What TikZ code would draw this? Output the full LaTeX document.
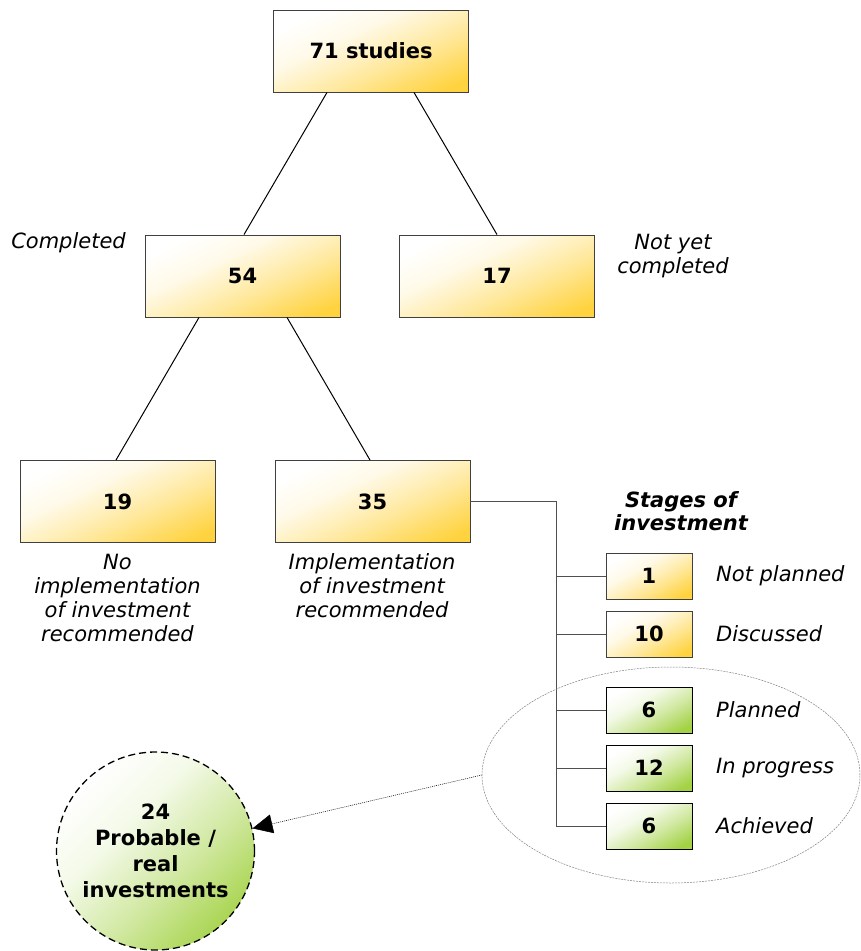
\documentclass[tikz,border=0pt]{standalone}
\usepackage{fontspec}
\setmainfont{DejaVu Sans}
\usetikzlibrary{arrows.meta,shapes.geometric}
\definecolor{goldc}{HTML}{FFD340}
\definecolor{greenc}{HTML}{A3D245}
\definecolor{boxline}{HTML}{404040}
\definecolor{wirec}{HTML}{505050}
\pgfdeclareverticalshading{goldshade}{100bp}{color(0bp)=(goldc); color(22bp)=(goldc); color(42bp)=(goldc!50); color(60bp)=(goldc!12); color(75bp)=(white); color(100bp)=(white)}
\pgfdeclareverticalshading{greenshade}{100bp}{color(0bp)=(greenc); color(22bp)=(greenc); color(42bp)=(greenc!50); color(60bp)=(greenc!12); color(75bp)=(white); color(100bp)=(white)}
\begin{document}
\begin{tikzpicture}[x=1pt,y=-1pt,
  lbl/.style={font=\itshape\fontsize{21}{24}\selectfont, align=center, inner sep=0pt},
  goldfill/.style={shading=goldshade, shading angle=25},
  greenfill/.style={shading=greenshade, shading angle=30},
  bigbox/.style={draw=boxline, line width=0.9pt, goldfill, minimum width=195pt, minimum height=82pt, inner sep=0pt, font=\bfseries\fontsize{21}{24}\selectfont},
  goldsmall/.style={draw=boxline, line width=0.9pt, shading=goldshade, shading angle=30, minimum width=86pt, minimum height=46pt, inner sep=0pt, font=\bfseries\fontsize{21}{24}\selectfont},
  greensmall/.style={draw=black, line width=0.9pt, greenfill, minimum width=86pt, minimum height=46pt, inner sep=0pt, font=\bfseries\fontsize{21}{24}\selectfont},
  treeline/.style={draw=black, line width=1pt},
  wire/.style={draw=wirec, line width=0.9pt},
  stage/.style={font=\itshape\fontsize{21}{24}\selectfont, anchor=west, inner sep=0pt}
]
\useasboundingbox (0,0) rectangle (860,951);

% main boxes
\node[bigbox] (n71) at (371,51) {71 studies};
\node[bigbox] (n54) at (242.5,276) {54};
\node[bigbox] (n17) at (497,276) {17};
\node[bigbox] (n19) at (117.5,501.5) {19};
\node[bigbox] (n35) at (372.5,501.5) {35};

% tree connectors
\draw[treeline] ([xshift=-44pt]n71.south) -- ([xshift=1.5pt]n54.north);
\draw[treeline] ([xshift=43pt]n71.south) -- (n17.north);
\draw[treeline] ([xshift=-43.5pt]n54.south) -- ([xshift=-1.5pt]n19.north);
\draw[treeline] ([xshift=44.5pt]n54.south) -- ([xshift=-2.5pt]n35.north);

% labels
\node[lbl, anchor=east] (lcomp) at (126,243) {Completed};
\node[lbl] (lnot) at (673,256) {Not yet\\completed};
\node[lbl] (lno) at (117.5,598) {No\\implementation\\of investment\\recommended};
\node[lbl] (limp) at (372,586) {Implementation\\of investment\\recommended};

% stages
\node[font=\bfseries\itshape\fontsize{21}{23}\selectfont, align=center, inner sep=0pt] (stitle) at (681,511) {Stages of\\investment};
\node[goldsmall] (s1) at (649,576) {1};
\node[goldsmall] (s2) at (649,634) {10};
\node[greensmall] (s3) at (649,710) {6};
\node[greensmall] (s4) at (649,768) {12};
\node[greensmall] (s5) at (649,826) {6};
\node[stage] (t1) at (716,576) {Not planned};
\node[stage] (t2) at (716,634) {Discussed};
\node[stage] (t3) at (716,710) {Planned};
\node[stage] (t4) at (716,768) {In progress};
\node[stage] (t5) at (716,826) {Achieved};

\coordinate (bt) at (556,501.5);
\draw[wire] (n35.east) -- (bt) |- (s5.west);
\foreach \s in {s1,s2,s3,s4}{
  \draw[wire] (bt |- \s.west) -- (\s.west);
}

% ellipse and circle
\node[ellipse, draw=gray, line width=0.5pt, dash pattern=on 2pt off 1pt, minimum width=378pt, minimum height=216pt, inner sep=0pt] (ell) at (671,775) {};
\node[circle, draw=black, line width=1.3pt, dash pattern=on 7pt off 4pt, shading=greenshade, shading angle=45, minimum size=198pt, inner sep=0pt, align=center, font=\bfseries\fontsize{21}{26}\selectfont] (circ) at (155.5,851) {24\\Probable /\\real\\investments};

\draw[draw=black, line width=0.5pt, dash pattern=on 1pt off 1pt, -{Triangle[length=20pt,width=19pt]}] (ell.west) -- (circ);
\end{tikzpicture}
\end{document}
